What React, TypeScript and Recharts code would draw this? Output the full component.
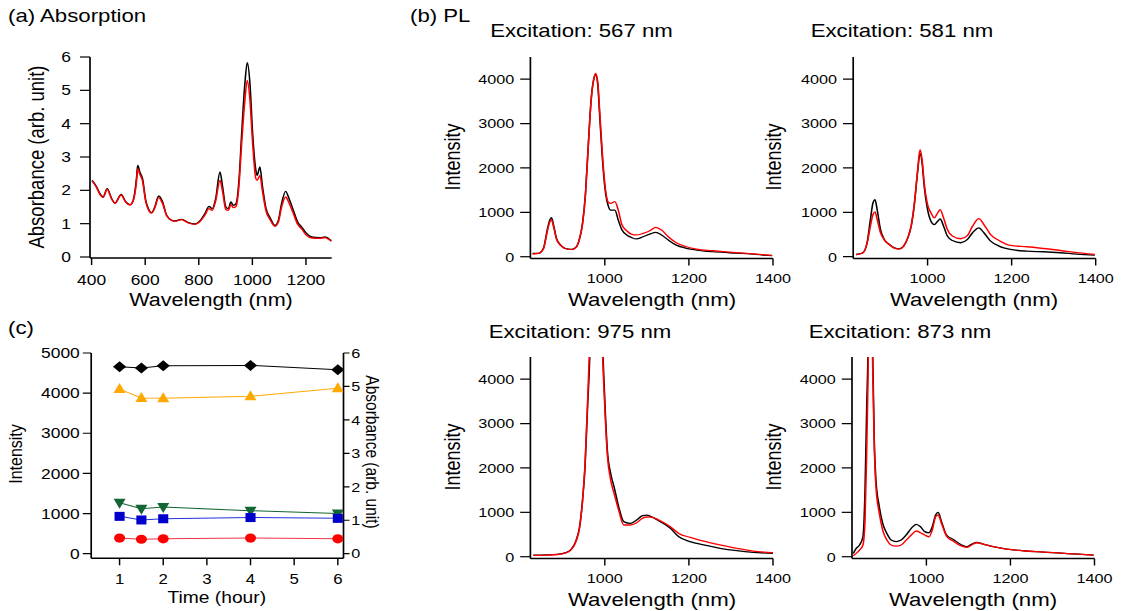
import { LineChart, Line, XAxis, YAxis } from "recharts";

// the reference figure is stretched horizontally, so the whole page is drawn narrower and scaled back
const SX = 1.2;
const FONT = '"Liberation Sans", Arial, Helvetica, sans-serif';

// (a) absorption spectra
const absWl = [402, 419, 431, 443, 458, 475, 487, 510, 528, 543, 555, 568, 572, 580, 590, 602, 612, 624, 636, 650, 665, 680, 699, 711, 736, 761, 786, 804, 823, 838, 850, 863, 879, 889, 901, 910, 920, 929, 939, 950, 960, 972, 981, 991, 1001, 1013, 1018, 1028, 1038, 1051, 1066, 1084, 1097, 1109, 1124, 1137, 1153, 1169, 1184, 1203, 1221, 1252, 1271, 1290, 1295];
const absBlack = [2.3, 2.1, 1.9, 1.8, 2.05, 1.75, 1.62, 1.88, 1.65, 1.57, 1.7, 2.4, 2.75, 2.55, 2.35, 1.7, 1.45, 1.33, 1.5, 1.83, 1.65, 1.25, 1.1, 1.08, 1.13, 1.03, 0.99, 1.08, 1.3, 1.52, 1.45, 1.75, 2.55, 2.1, 1.5, 1.45, 1.65, 1.55, 1.6, 2.3, 3.7, 5.2, 5.83, 5.2, 3.7, 2.6, 2.45, 2.7, 2.1, 1.45, 1.18, 0.95, 1.1, 1.6, 1.97, 1.75, 1.4, 1.05, 0.9, 0.7, 0.6, 0.58, 0.6, 0.52, 0.48];
const absRed = [2.28, 2.08, 1.88, 1.79, 2.03, 1.74, 1.61, 1.86, 1.64, 1.56, 1.68, 2.3, 2.65, 2.48, 2.28, 1.66, 1.42, 1.32, 1.48, 1.78, 1.6, 1.24, 1.1, 1.07, 1.12, 1.02, 0.98, 1.06, 1.26, 1.45, 1.4, 1.68, 2.3, 1.95, 1.42, 1.4, 1.57, 1.48, 1.52, 2.15, 3.4, 4.7, 5.3, 4.7, 3.4, 2.35, 2.3, 2.45, 1.95, 1.38, 1.12, 0.92, 1.05, 1.5, 1.8, 1.62, 1.3, 0.98, 0.84, 0.64, 0.57, 0.56, 0.58, 0.5, 0.47];
const absXTicks = [400, 600, 800, 1000, 1200];
const absYTicks = [0, 1, 2, 3, 4, 5, 6];

// (b) PL, excitation 567 nm
const pl567Wl = [828, 842, 854, 863, 869, 873, 879, 885, 895, 905, 921, 931, 939, 947, 954, 960, 968, 975, 978, 983, 988, 994, 1000, 1008, 1014, 1024, 1032, 1041, 1052, 1063, 1075, 1091, 1107, 1121, 1135, 1151, 1170, 1194, 1218, 1257, 1297, 1337, 1376, 1398];
const pl567Black = [75, 75, 190, 600, 825, 880, 675, 410, 260, 190, 165, 210, 375, 750, 1425, 2400, 3600, 4050, 4110, 3900, 3150, 2250, 1575, 1150, 1050, 1050, 825, 600, 490, 435, 400, 450, 510, 550, 490, 375, 260, 190, 150, 113, 90, 68, 38, 23];
const pl567Red = [60, 75, 175, 560, 780, 830, 640, 400, 255, 185, 160, 205, 370, 740, 1400, 2380, 3580, 4050, 4130, 3950, 3250, 2350, 1650, 1230, 1200, 1240, 1050, 713, 585, 510, 490, 525, 585, 660, 600, 450, 315, 225, 170, 135, 105, 75, 45, 30];

// excitation 581 nm
const pl581Wl = [830, 846, 856, 864, 870, 875, 880, 888, 897, 909, 921, 933, 943, 953, 961, 968, 976, 982, 987, 992, 1000, 1008, 1016, 1024, 1030, 1038, 1047, 1059, 1079, 1095, 1107, 1122, 1134, 1150, 1170, 1197, 1237, 1276, 1316, 1355, 1398];
const pl581Black = [50, 90, 315, 840, 1210, 1285, 1060, 610, 390, 275, 200, 180, 240, 425, 690, 1135, 1885, 2330, 2110, 1585, 1060, 800, 725, 800, 850, 690, 465, 365, 315, 390, 540, 650, 540, 350, 240, 165, 125, 112, 90, 60, 37];
const pl581Red = [45, 85, 300, 690, 950, 1010, 840, 540, 380, 270, 195, 175, 240, 430, 700, 1150, 1920, 2410, 2180, 1660, 1175, 990, 875, 990, 1060, 875, 615, 465, 405, 480, 690, 860, 725, 500, 365, 255, 225, 185, 140, 90, 52];

// excitation 975 nm (main peak runs off the top)
const pl975Wl = [830, 860, 888, 905, 920, 932, 940, 947, 953, 959, 964, 970, 978, 986, 992, 997, 1001, 1006, 1014, 1022, 1033, 1045, 1061, 1075, 1090, 1100, 1110, 1132, 1156, 1176, 1203, 1235, 1274, 1314, 1353, 1400];
const pl975Black = [35, 40, 55, 85, 165, 375, 675, 1275, 2025, 3375, 4450, 7000, 8500, 7500, 5400, 4200, 3300, 2400, 1875, 1575, 1125, 790, 750, 820, 925, 935, 905, 790, 640, 450, 340, 265, 190, 135, 98, 75];
const pl975Red = [30, 35, 50, 80, 160, 360, 650, 1250, 2100, 3500, 4800, 7200, 8500, 7200, 5200, 4000, 3150, 2300, 1725, 1425, 1050, 715, 715, 760, 870, 895, 890, 810, 675, 525, 435, 350, 265, 190, 128, 90];

// excitation 873 nm
const pl873Wl = [826, 833, 841, 849, 854, 858, 861, 865, 868, 872, 876, 880, 888, 896, 906, 916, 928, 940, 952, 964, 976, 986, 996, 1006, 1014, 1022, 1028, 1036, 1048, 1064, 1084, 1096, 1108, 1120, 1135, 1159, 1191, 1231, 1279, 1335, 1398];
const pl873Black = [75, 190, 265, 450, 1500, 3375, 4600, 8500, 8000, 4700, 2625, 1725, 1125, 750, 525, 375, 340, 375, 490, 640, 730, 675, 565, 540, 675, 940, 1000, 790, 490, 390, 265, 225, 285, 320, 285, 225, 170, 135, 105, 68, 38];
const pl873Red = [20, 75, 150, 265, 825, 2400, 3900, 7000, 6500, 4400, 2475, 1575, 975, 600, 375, 265, 240, 265, 375, 490, 580, 540, 490, 450, 600, 900, 940, 750, 465, 350, 240, 210, 265, 315, 285, 225, 170, 135, 105, 68, 38];

const plXTicks = [1000, 1200, 1400];
const plYTicks = [0, 1000, 2000, 3000, 4000];

// (c) time series
const timeHours = [1, 1.5, 2, 4, 6];
const diamondAbs = [5.59, 5.55, 5.62, 5.63, 5.5];
const triangleInt = [4100, 3880, 3870, 3920, 4120];
const invTriangleInt = [1270, 1120, 1160, 1070, 1000];
const squareInt = [930, 840, 870, 900, 880];
const circleInt = [390, 360, 370, 390, 370];
const timeTicks = [1, 2, 3, 4, 5, 6];
const intTicks = [0, 1000, 2000, 3000, 4000, 5000];
const absRightTicks = [0, 1, 2, 3, 4, 5, 6];

const AXIS = { stroke: "#000", strokeWidth: 1.4 };
const TICK = { stroke: "#000", strokeWidth: 1.2 };

const YW = 60;
const XH = 40;
const MT = 10;
const MR = 24;

interface Frame {
  x0: number;
  x1: number;
  y0: number;
  y1: number;
}

function zipRows(x: number[], black: number[], red: number[]) {
  return x.map((v, i) => ({ x: v, black: black[i], red: red[i] }));
}

function Spectrum(props: {
  frame: Frame;
  rows: { x: number; black: number; red: number }[];
  xDomain: [number, number];
  xTicks: number[];
  yDomain: [number, number];
  yTicks: number[];
  fontSize: number;
  xTickSize: number;
  xTickMargin: number;
  yTickSize: number;
  yTickMargin: number;
}) {
  const { frame } = props;
  const plotW = (frame.x1 - frame.x0) / SX;
  const plotH = frame.y1 - frame.y0;
  const tick = { fill: "#000", fontSize: props.fontSize, fontFamily: FONT };
  return (
    <div style={{ position: "absolute", left: frame.x0 / SX - YW, top: frame.y0 - MT }}>
      <LineChart
        width={YW + plotW + MR}
        height={MT + plotH + XH}
        data={props.rows}
        margin={{ top: MT, right: MR, bottom: 0, left: 0 }}
      >
        <XAxis
          type="number"
          dataKey="x"
          domain={props.xDomain}
          ticks={props.xTicks}
          allowDataOverflow
          interval={0}
          height={XH}
          tickSize={props.xTickSize}
          tickMargin={props.xTickMargin}
          axisLine={AXIS}
          tickLine={TICK}
          tick={tick}
        />
        <YAxis
          type="number"
          domain={props.yDomain}
          ticks={props.yTicks}
          allowDataOverflow
          interval={0}
          width={YW}
          tickSize={props.yTickSize}
          tickMargin={props.yTickMargin}
          axisLine={AXIS}
          tickLine={TICK}
          tick={tick}
        />
        <Line type="monotone" dataKey="black" stroke="#000" strokeWidth={1.3} dot={false} isAnimationActive={false} />
        <Line type="monotone" dataKey="red" stroke="#ff0000" strokeWidth={1.3} dot={false} isAnimationActive={false} />
      </LineChart>
    </div>
  );
}

function Text(props: { x: number; y: number; size: number; text: string; rotate?: number; anchor?: "start" | "middle" }) {
  const tx = props.anchor === "start" ? "0" : "-50%";
  return (
    <div
      style={{
        position: "absolute",
        left: props.x / SX,
        top: props.y,
        fontSize: props.size,
        lineHeight: 1,
        whiteSpace: "nowrap",
        color: "#000",
        transform: `translate(${tx}, -50%) rotate(${props.rotate ?? 0}deg)`,
      }}
    >
      {props.text}
    </div>
  );
}

type DotProps = { cx?: number; cy?: number; index?: number };

const diamondDot = (p: DotProps) => {
  const { cx, cy } = p;
  if (cx == null || cy == null) return <g key={p.index} />;
  return <polygon key={p.index} points={`${cx},${cy - 5.5} ${cx + 5.5},${cy} ${cx},${cy + 5.5} ${cx - 5.5},${cy}`} fill="#000" />;
};
const triangleDot = (p: DotProps) => {
  const { cx, cy } = p;
  if (cx == null || cy == null) return <g key={p.index} />;
  return <polygon key={p.index} points={`${cx},${cy - 6} ${cx + 5},${cy + 4} ${cx - 5},${cy + 4}`} fill="#FFA800" />;
};
const invTriangleDot = (p: DotProps) => {
  const { cx, cy } = p;
  if (cx == null || cy == null) return <g key={p.index} />;
  return <polygon key={p.index} points={`${cx},${cy + 6} ${cx + 5},${cy - 4} ${cx - 5},${cy - 4}`} fill="#116633" />;
};
const squareDot = (p: DotProps) => {
  const { cx, cy } = p;
  if (cx == null || cy == null) return <g key={p.index} />;
  return <rect key={p.index} x={cx - 4.2} y={cy - 4.5} width={8.4} height={9} fill="#0000CC" />;
};
const circleDot = (p: DotProps) => {
  const { cx, cy } = p;
  if (cx == null || cy == null) return <g key={p.index} />;
  return <circle key={p.index} cx={cx} cy={cy} r={4.6} fill="#FF0000" />;
};

const frameA: Frame = { x0: 90, x1: 331.7, y0: 57, y1: 258 };
const frameB1: Frame = { x0: 530.7, x1: 773.3, y0: 57, y1: 258.5 };
const frameB2: Frame = { x0: 853, x1: 1095.5, y0: 57, y1: 258.5 };
const frameB3: Frame = { x0: 530.7, x1: 773.3, y0: 357, y1: 558.5 };
const frameB4: Frame = { x0: 852, x1: 1094.5, y0: 357, y1: 558.5 };
const frameC: Frame = { x0: 90.7, x1: 343, y0: 353, y1: 558.3 };

const CRW = 30;

export default function App() {
  const plProps = {
    xDomain: [823, 1400] as [number, number],
    xTicks: plXTicks,
    yDomain: [-40, 4500] as [number, number],
    yTicks: plYTicks,
    fontSize: 13.5,
    xTickSize: 7,
    xTickMargin: 8,
    yTickSize: 8.5,
    yTickMargin: 5,
  };
  const timeRows = timeHours.map((t, i) => ({
    t,
    diamond: diamondAbs[i],
    triangle: triangleInt[i],
    inv: invTriangleInt[i],
    square: squareInt[i],
    circle: circleInt[i],
  }));
  const cPlotW = (frameC.x1 - frameC.x0) / SX;
  const cPlotH = frameC.y1 - frameC.y0;
  const cTick = { fill: "#000", fontSize: 14.5, fontFamily: FONT };

  return (
    <div style={{ position: "absolute", left: 0, top: 0, width: 1121, height: 611, overflow: "hidden", background: "#fff" }}>
      <div
        style={{
          position: "absolute",
          left: 0,
          top: 0,
          width: 1121 / SX,
          height: 611,
          transform: `scaleX(${SX})`,
          transformOrigin: "0 0",
          fontFamily: FONT,
        }}
      >
        <Spectrum
          frame={frameA}
          rows={zipRows(absWl, absBlack, absRed)}
          xDomain={[394, 1296]}
          xTicks={absXTicks}
          yDomain={[-0.03, 6]}
          yTicks={absYTicks}
          fontSize={14.5}
          xTickSize={7}
          xTickMargin={9.5}
          yTickSize={8.3}
          yTickMargin={7.5}
        />
        <Spectrum frame={frameB1} rows={zipRows(pl567Wl, pl567Black, pl567Red)} {...plProps} />
        <Spectrum frame={frameB2} rows={zipRows(pl581Wl, pl581Black, pl581Red)} {...plProps} />
        <Spectrum frame={frameB3} rows={zipRows(pl975Wl, pl975Black, pl975Red)} {...plProps} />
        <Spectrum frame={frameB4} rows={zipRows(pl873Wl, pl873Black, pl873Red)} {...plProps} />

        <div style={{ position: "absolute", left: frameC.x0 / SX - YW, top: frameC.y0 - MT }}>
          <LineChart
            width={YW + cPlotW + CRW}
            height={MT + cPlotH + XH}
            data={timeRows}
            margin={{ top: MT, right: 0, bottom: 0, left: 0 }}
          >
            <XAxis
              type="number"
              dataKey="t"
              domain={[0.35, 6.13]}
              ticks={timeTicks}
              allowDataOverflow
              interval={0}
              height={XH}
              tickSize={7}
              tickMargin={9}
              axisLine={AXIS}
              tickLine={TICK}
              tick={{ ...cTick, fontSize: 14 }}
            />
            <YAxis
              yAxisId="l"
              type="number"
              domain={[-115, 5000]}
              ticks={intTicks}
              allowDataOverflow
              interval={0}
              width={YW}
              tickSize={7}
              tickMargin={2.5}
              axisLine={AXIS}
              tickLine={TICK}
              tick={cTick}
            />
            <YAxis
              yAxisId="r"
              orientation="right"
              type="number"
              domain={[-0.138, 6]}
              ticks={absRightTicks}
              allowDataOverflow
              interval={0}
              width={CRW}
              tickSize={5}
              tickMargin={1.5}
              axisLine={AXIS}
              tickLine={TICK}
              tick={{ ...cTick, fontSize: 13.5 }}
            />
            <Line yAxisId="r" type="linear" dataKey="diamond" stroke="#000" strokeWidth={1} dot={diamondDot} isAnimationActive={false} />
            <Line yAxisId="l" type="linear" dataKey="triangle" stroke="#FFA800" strokeWidth={1} dot={triangleDot} isAnimationActive={false} />
            <Line yAxisId="l" type="linear" dataKey="inv" stroke="#116633" strokeWidth={1} dot={invTriangleDot} isAnimationActive={false} />
            <Line yAxisId="l" type="linear" dataKey="square" stroke="#2233DD" strokeWidth={1} dot={squareDot} isAnimationActive={false} />
            <Line yAxisId="l" type="linear" dataKey="circle" stroke="#EE3344" strokeWidth={1} dot={circleDot} isAnimationActive={false} />
          </LineChart>
        </div>

        <Text x={8} y={16} size={18.5} text="(a) Absorption" anchor="start" />
        <Text x={410} y={16} size={18.5} text="(b) PL" anchor="start" />
        <Text x={8} y={328} size={18.5} text="(c)" anchor="start" />

        <Text x={581.5} y={31} size={18.5} text="Excitation: 567 nm" />
        <Text x={902} y={31} size={18.5} text="Excitation: 581 nm" />
        <Text x={580} y={332} size={18.5} text="Excitation: 975 nm" />
        <Text x={900} y={332} size={18.5} text="Excitation: 873 nm" />

        <Text x={211} y={300} size={18} text="Wavelength (nm)" />
        <Text x={37.5} y={157} size={18.5} text="Absorbance (arb. unit)" rotate={-90} />

        <Text x={652} y={299.5} size={18.5} text="Wavelength (nm)" />
        <Text x={974} y={299.5} size={18.5} text="Wavelength (nm)" />
        <Text x={652} y={599.5} size={18.5} text="Wavelength (nm)" />
        <Text x={973} y={599.5} size={18.5} text="Wavelength (nm)" />
        <Text x={452.5} y={157} size={18} text="Intensity" rotate={-90} />
        <Text x={773.5} y={157} size={18} text="Intensity" rotate={-90} />
        <Text x={452.5} y={457} size={18} text="Intensity" rotate={-90} />
        <Text x={773.5} y={457} size={18} text="Intensity" rotate={-90} />

        <Text x={216.8} y={598} size={16} text="Time (hour)" />
        <Text x={15} y={454} size={16} text="Intensity" rotate={-90} />
        <Text x={372} y={452} size={15.5} text="Absorbance (arb. unit)" rotate={90} />
      </div>
    </div>
  );
}
